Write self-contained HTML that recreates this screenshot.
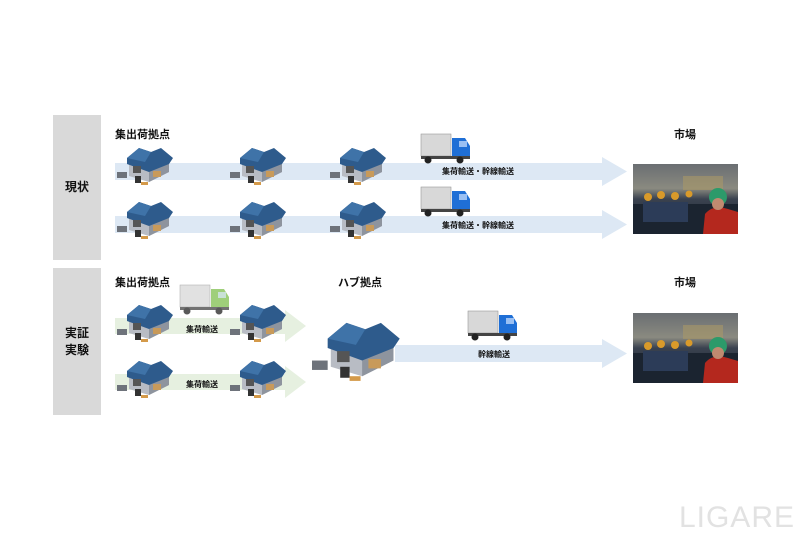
<!DOCTYPE html>
<html><head><meta charset="utf-8"><style>
html,body{margin:0;padding:0;background:#fff}
svg{display:block}
text{font-family:"Liberation Sans","Noto Sans CJK JP",sans-serif;font-weight:bold;fill:#111}
</style></head><body>
<svg width="800" height="533" viewBox="0 0 800 533" xmlns="http://www.w3.org/2000/svg">
<defs>
<symbol id="wh" viewBox="0 0 60 40" overflow="visible">
  <polygon points="12,20 12,32 32,38 52,28 52,18 32,26" fill="#b8bcc4"/>
  <polygon points="32,26 32,38 52,28 52,18" fill="#8e949e"/>
  <polygon points="10,14 22,4 34,8 44,4 56,14 52,20 32,28 10,20" fill="#2e5b8c"/>
  <polygon points="10,14 22,4 34,8 28,18" fill="#3f73a8"/>
  <rect x="16" y="22" width="8" height="7" fill="#555"/>
  <rect x="36" y="27" width="8" height="6" fill="#c89a5a"/>
  <rect x="0" y="28" width="10" height="6" fill="#6e737b"/>
  <rect x="18" y="32" width="6" height="7" fill="#333"/>
  <rect x="24" y="38" width="7" height="3" fill="#d49a4a"/>
</symbol>
<symbol id="tr" viewBox="0 0 50 32" overflow="visible">
  <rect x="0" y="2" width="30" height="22" fill="#d8d8d8" stroke="#999" stroke-width="0.6"/>
  <polygon points="31,6 44,6 49,14 49,26 31,26" fill="currentColor"/>
  <rect x="38" y="9" width="8" height="6" fill="#cfe3ff" opacity="0.7"/>
  <rect x="0" y="24" width="49" height="3" fill="#444"/>
  <circle cx="7" cy="28" r="3.5" fill="#222"/>
  <circle cx="39" cy="28" r="3.5" fill="#222"/>
</symbol>
<linearGradient id="ph" x1="0" y1="0" x2="0" y2="1">
  <stop offset="0" stop-color="#6a6e72"/><stop offset="0.35" stop-color="#8a8a80"/><stop offset="0.5" stop-color="#3a4250"/><stop offset="1" stop-color="#1d232c"/>
</linearGradient>
<symbol id="photo" viewBox="0 0 105 70">
  <rect width="105" height="70" fill="url(#ph)"/>
  <rect x="50" y="12" width="40" height="14" fill="#a89868" opacity="0.6"/>
  <rect x="0" y="40" width="105" height="30" fill="#1b2430"/>
  <rect x="10" y="38" width="45" height="20" fill="#2c3c58"/>
  <circle cx="15" cy="33" r="4" fill="#d99a2a"/><circle cx="28" cy="31" r="4" fill="#d99a2a"/><circle cx="42" cy="32" r="4" fill="#d99a2a"/><circle cx="56" cy="30" r="3.5" fill="#d99a2a"/>
  <path d="M70 70 L72 50 Q80 40 95 45 L105 48 L105 70Z" fill="#b4281e"/>
  <circle cx="85" cy="33" r="9" fill="#2c9a6a"/>
  <circle cx="85" cy="40" r="6" fill="#c08a70"/>
</symbol>
</defs>

<rect x="53" y="115" width="48" height="145" fill="#d9d9d9"/>
<rect x="53" y="268" width="48" height="147" fill="#d9d9d9"/>
<text x="77" y="191" font-size="12" text-anchor="middle">現状</text>
<text x="77" y="337" font-size="12" text-anchor="middle">実証</text>
<text x="77" y="354" font-size="12" text-anchor="middle">実験</text>

<g fill="#dde8f4">
<polygon points="115,163 602,163 602,157 627,171.5 602,186 602,180 115,180"/>
<polygon points="115,216 602,216 602,210 627,224.5 602,239 602,233 115,233"/>
<polygon points="395,345 602,345 602,339 627,353.5 602,368 602,362 395,362"/>
</g>
<g fill="#e6f0e0">
<polygon points="115,318 285,318 285,310 306,326 285,342 285,334 115,334"/>
<polygon points="115,374 285,374 285,366 306,382 285,398 285,390 115,390"/>
</g>

<text x="115" y="138" font-size="11">集出荷拠点</text>
<text x="674" y="138" font-size="11">市場</text>
<text x="115" y="286" font-size="11">集出荷拠点</text>
<text x="338" y="286" font-size="11">ハブ拠点</text>
<text x="674" y="286" font-size="11">市場</text>
<text x="442" y="174" font-size="8">集荷輸送・幹線輸送</text>
<text x="442" y="228" font-size="8">集荷輸送・幹線輸送</text>
<text x="186" y="332" font-size="8">集荷輸送</text>
<text x="186" y="387" font-size="8">集荷輸送</text>
<text x="478" y="357" font-size="8">幹線輸送</text>

<use href="#wh" x="117" y="143" width="60" height="42"/>
<use href="#wh" x="230" y="143" width="60" height="42"/>
<use href="#wh" x="330" y="143" width="60" height="42"/>
<use href="#wh" x="117" y="197" width="60" height="42"/>
<use href="#wh" x="230" y="197" width="60" height="42"/>
<use href="#wh" x="330" y="197" width="60" height="42"/>
<use href="#wh" x="117" y="300" width="60" height="42"/>
<use href="#wh" x="230" y="300" width="60" height="42"/>
<use href="#wh" x="117" y="356" width="60" height="42"/>
<use href="#wh" x="230" y="356" width="60" height="42"/>
<use href="#wh" x="312" y="316" width="94" height="64"/>

<use href="#tr" x="421" y="132" width="50" height="32" color="#1f6fd6"/>
<use href="#tr" x="421" y="185" width="50" height="32" color="#1f6fd6"/>
<use href="#tr" x="468" y="309" width="50" height="32" color="#1f6fd6"/>
<use href="#tr" x="180" y="283" width="50" height="32" color="#7fc04e" opacity="0.75"/>

<use href="#photo" x="633" y="164" width="105" height="70"/>
<use href="#photo" x="633" y="313" width="105" height="70"/>

<text x="795" y="527" font-size="30" text-anchor="end" style="fill:#e2e2e2;font-weight:normal;letter-spacing:1px">LIGARE</text>
</svg>
</body></html>
